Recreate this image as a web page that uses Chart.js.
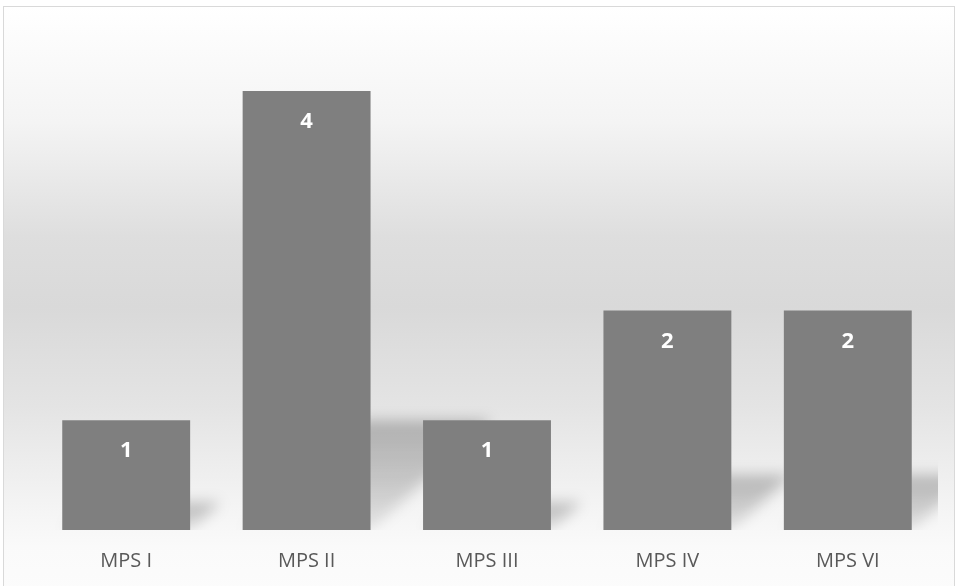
<!DOCTYPE html>
<html>
<head>
<meta charset="utf-8">
<script src="https://cdn.jsdelivr.net/npm/chart.js@4.4.1/dist/chart.umd.min.js"></script>
<style>
  html, body { margin: 0; padding: 0; background: #ffffff; }
  #frame {
    position: absolute; left: 3px; top: 6px; width: 952px; height: 590px;
    border: 1px solid #d9d9d9; box-sizing: border-box;
    background: linear-gradient(to bottom,
      #ffffff 0px, #f4f4f4 115px, #dedede 230px, #d9d9d9 300px,
      #e4e4e4 400px, #f4f4f4 500px, #fafafa 540px, #fcfcfc 590px);
  }
  #wrap { position: absolute; left: 0; top: 0; width: 959px; height: 586px; }
</style>
</head>
<body>
<div id="frame"></div>
<div id="wrap"><canvas id="chart" width="959" height="586"></canvas></div>
<script>
// Mucopolysaccharidosis types and their case counts
const categories = ['MPS I', 'MPS II', 'MPS III', 'MPS IV', 'MPS VI'];
const counts = [1, 4, 1, 2, 2];

const barColor = '#7f7f7f';
const labelFont = '"Open Sans", "DejaVu Sans", sans-serif';

// Soft perspective shadow cast up and to the right behind each bar
const barShadow = {
  id: 'barShadow',
  beforeDatasetsDraw(chart) {
    const { ctx, chartArea } = chart;
    const meta = chart.getDatasetMeta(0);
    ctx.save();
    ctx.beginPath();
    ctx.rect(chartArea.left, chartArea.top, chartArea.right - chartArea.left, chartArea.bottom - chartArea.top);
    ctx.clip();
    ctx.filter = 'blur(7px)';
    meta.data.forEach((bar) => {
      const p = bar.getProps(['x', 'y', 'base', 'width'], true);
      const h = p.base - p.y;
      const rise = h * 0.25;
      const shift = rise * 1.1;
      const l = p.x - p.width / 2, r = p.x + p.width / 2;
      const g = ctx.createLinearGradient(0, p.base - rise, 0, p.base);
      g.addColorStop(0, 'rgba(0,0,0,0.24)');
      g.addColorStop(0.5, 'rgba(0,0,0,0.18)');
      g.addColorStop(1, 'rgba(0,0,0,0.08)');
      ctx.fillStyle = g;
      ctx.beginPath();
      ctx.moveTo(l, p.base);
      ctx.lineTo(r, p.base);
      ctx.lineTo(r + shift, p.base - rise);
      ctx.lineTo(l + shift, p.base - rise);
      ctx.closePath();
      ctx.fill();
    });
    ctx.restore();
  }
};

// Value printed in white near the top of each bar
const barValues = {
  id: 'barValues',
  afterDatasetsDraw(chart) {
    const { ctx } = chart;
    const meta = chart.getDatasetMeta(0);
    const data = chart.data.datasets[0].data;
    ctx.save();
    ctx.fillStyle = '#ffffff';
    ctx.font = 'bold 22px ' + labelFont;
    ctx.textAlign = 'center';
    ctx.textBaseline = 'middle';
    meta.data.forEach((bar, i) => {
      const p = bar.getProps(['x', 'y'], true);
      ctx.fillText(String(data[i]), p.x, p.y + 31);
    });
    ctx.restore();
  }
};

new Chart(document.getElementById('chart'), {
  type: 'bar',
  data: {
    labels: categories,
    datasets: [{
      data: counts,
      backgroundColor: barColor,
      borderWidth: 0,
      categoryPercentage: 1.0,
      barPercentage: 0.709
    }]
  },
  options: {
    responsive: false,
    animation: false,
    devicePixelRatio: 1,
    layout: { padding: { left: 36, right: 21, top: 36, bottom: 0 } },
    plugins: {
      legend: { display: false },
      tooltip: { enabled: false }
    },
    scales: {
      x: {
        grid: { display: false, drawTicks: false },
        border: { display: false },
        ticks: {
          color: '#595959',
          font: { family: labelFont, size: 20 },
          padding: 19
        },
        afterFit(scale) { scale.height = 56; }
      },
      y: {
        display: false,
        min: 0,
        max: 4.5
      }
    }
  },
  plugins: [barShadow, barValues]
});
</script>
</body>
</html>
